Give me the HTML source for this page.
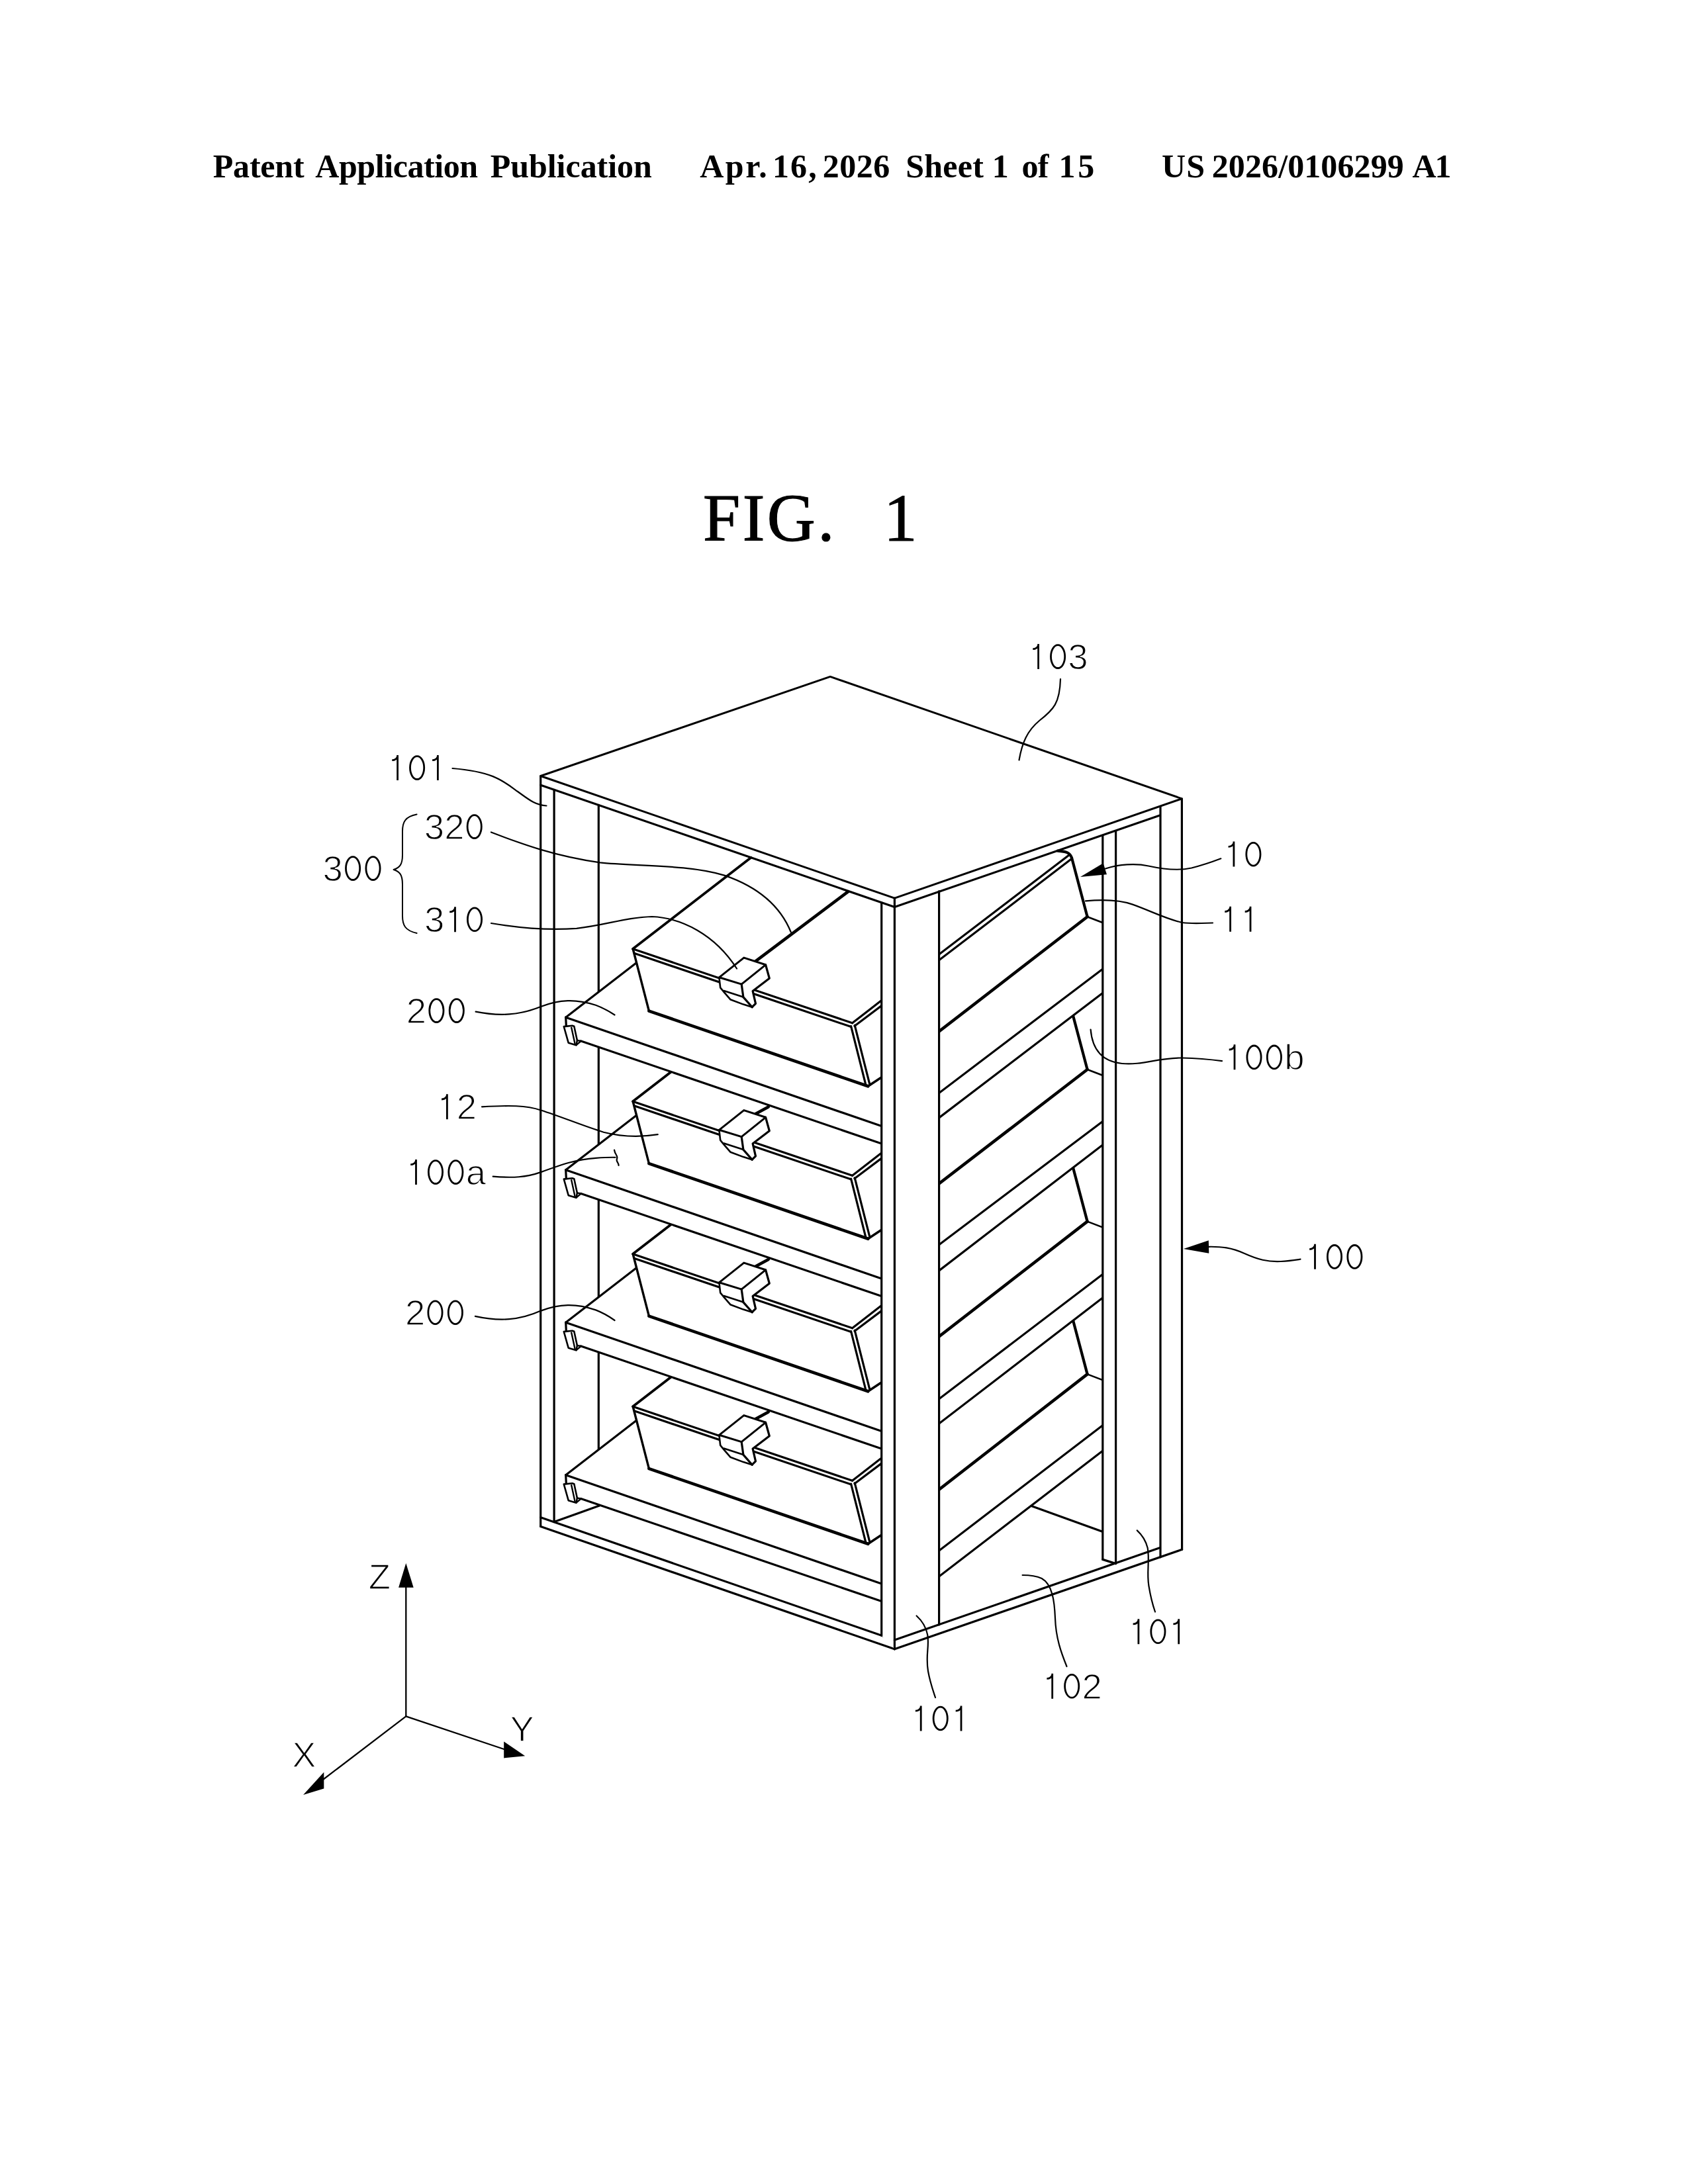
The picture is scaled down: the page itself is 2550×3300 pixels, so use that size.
<!DOCTYPE html>
<html><head><meta charset="utf-8"><title>FIG. 1</title>
<style>
html,body{margin:0;padding:0;background:#fff;}
body{width:2550px;height:3300px;position:relative;overflow:hidden;font-family:"Liberation Serif",serif;}
.h{position:absolute;top:220.5px;font:bold 50px "Liberation Serif",serif;white-space:pre;line-height:60px;color:#000;}
.fig{position:absolute;font:101px "Liberation Serif",serif;line-height:110px;color:#000;white-space:pre;letter-spacing:3.5px;-webkit-text-stroke:1.2px #000;}
svg{position:absolute;left:0;top:0;}
svg text{font-family:"Liberation Sans",sans-serif;font-size:54.5px;fill:#000;stroke:#fff;stroke-width:1.4px;text-anchor:middle;}
svg .g{fill:none;stroke:#000;stroke-width:2.8px;stroke-linecap:butt;}
</style></head><body>
<div class="h" style="left:321.8px;letter-spacing:-0.22px">Patent</div>
<div class="h" style="left:476.3px;letter-spacing:-0.43px">Application</div>
<div class="h" style="left:740.7px;letter-spacing:-0.03px">Publication</div>
<div class="h" style="left:1057.2px;letter-spacing:2.53px">Apr.</div>
<div class="h" style="left:1166.9px;letter-spacing:2.20px">16,</div>
<div class="h" style="left:1242.7px;letter-spacing:0.50px">2026</div>
<div class="h" style="left:1368.2px;letter-spacing:0.27px">Sheet</div>
<div class="h" style="left:1498.7px;letter-spacing:0.00px">1</div>
<div class="h" style="left:1543.4px;letter-spacing:-0.60px">of</div>
<div class="h" style="left:1599.5px;letter-spacing:3.70px">15</div>
<div class="h" style="left:1755.0px;letter-spacing:1.20px">US</div>
<div class="h" style="left:1830.7px;letter-spacing:0.11px">2026/0106299</div>
<div class="h" style="left:2133.4px;letter-spacing:-2.00px">A1</div>
<div class="fig" id="f1" style="left:1062px;top:728px">FIG.</div>
<div class="fig" id="f2" style="left:1335px;top:728px">1</div>
<svg width="2550" height="3300" viewBox="0 0 2550 3300">
<defs><clipPath id="rc"><rect x="1418.6" y="1200" width="247.2" height="1300"/></clipPath></defs>
<g fill="none" stroke="#000" stroke-linecap="round" stroke-linejoin="round">
<line x1="816.7" y1="1172.5" x2="816.7" y2="2306.5" stroke-width="3.2"/>
<line x1="837.1" y1="1193.3" x2="837.1" y2="2299.5" stroke-width="3.2"/>
<line x1="904.3" y1="1216.4" x2="904.3" y2="2275.3" stroke-width="3.2"/>
<line x1="816.7" y1="2292.8" x2="1351.4" y2="2478.1" stroke-width="3.2"/>
<line x1="816.7" y1="2306.5" x2="1351.4" y2="2491.8" stroke-width="3.2"/>
<line x1="837.1" y1="2299.5" x2="905.5" y2="2275.1" stroke-width="3.2"/>
<polygon points="854.7,2228.7 964,2144.2 980.4,2219.1 1311.3,2332.8 1331.7,2319 1331.7,2419.5 877.7,2264.5 870.5,2270.7 858.7,2267.2 851.8,2242.6" fill="#fff" stroke="none"/>
<line x1="854.7" y1="2228.7" x2="964" y2="2144.2" stroke-width="3.2"/>
<line x1="854.7" y1="2228.7" x2="1331.7" y2="2393" stroke-width="3.2"/>
<line x1="877.7" y1="2264.5" x2="1331.7" y2="2419.5" stroke-width="3.2"/>
<line x1="854.7" y1="2228.7" x2="855.4" y2="2243.1" stroke-width="3.2"/>
<polygon points="851.8,2242.6 864.5,2241.2 867.3,2242.3 871.9,2263.5 870.5,2270.7 858.7,2267.2" fill="#fff" stroke-width="2.6"/>
<line x1="863.2" y1="2244.1" x2="868.6" y2="2268.7" stroke-width="2.4"/>
<polyline points="871.9,2263.5 877.7,2264.5 870.5,2270.7" stroke-width="2.4"/>
<polygon points="956,2125.3 1013.9,2080.5 1160.8,2133.4 1331.7,2203.1 1331.7,2319.5 1311.3,2332.8 980.4,2219.1" fill="#fff" stroke="none"/>
<line x1="956" y1="2125.3" x2="1013.9" y2="2080.5" stroke-width="3.8"/>
<line x1="1141.5" y1="2143.9" x2="1160.8" y2="2133.4" stroke-width="4.6"/>
<line x1="956" y1="2125.3" x2="1287.6" y2="2237.3" stroke-width="3.2"/>
<line x1="958.6" y1="2132.1" x2="1285.2" y2="2242.8" stroke-width="3.2"/>
<line x1="956.6" y1="2127" x2="980.4" y2="2219.1" stroke-width="3.4"/>
<line x1="980.4" y1="2219.1" x2="1311.3" y2="2332.8" stroke-width="4.6"/>
<line x1="1285.6" y1="2242.1" x2="1308.2" y2="2331.9" stroke-width="3.2"/>
<line x1="1291.2" y1="2240.7" x2="1314" y2="2330.7" stroke-width="3.2"/>
<line x1="1287.6" y1="2237.3" x2="1331.7" y2="2203.1" stroke-width="3.2"/>
<line x1="1291" y1="2241.7" x2="1331.7" y2="2211.1" stroke-width="3.2"/>
<line x1="1311.3" y1="2332.8" x2="1331.7" y2="2319.3" stroke-width="3.6"/>
<polygon points="1086.4,2168.3 1123.8,2138.6 1156.6,2149.3 1162.3,2169.7 1137.1,2188.9 1141.5,2207.9 1136.2,2213.2 1122.9,2209.1 1103.3,2201.7 1094.4,2191.3 1088.2,2183.9" fill="#fff" stroke="none"/>
<polygon points="1086.4,2168.3 1123.8,2138.6 1156.6,2149.3 1120.2,2178.6" fill="none" stroke-width="3"/>
<polyline points="1156.6,2149.3 1162.3,2169.7 1137.1,2188.9 1141.5,2207.9 1136.2,2213.2" stroke-width="3.2"/>
<polyline points="1120.2,2178.6 1122.9,2198.1 1136.2,2213.2" stroke-width="3.2"/>
<polyline points="1086.4,2168.3 1088.2,2183.9 1094.4,2191.3 1103.3,2201.7 1122.9,2209.1 1136.2,2213.2" stroke-width="2.6"/>
<line x1="1093.5" y1="2188.5" x2="1122.9" y2="2198.1" stroke-width="2.6"/>
<polygon points="854.7,1998.2 964,1913.7 980.4,1988.6 1311.3,2102.3 1331.7,2088.5 1331.7,2189 877.7,2034 870.5,2040.2 858.7,2036.7 851.8,2012.1" fill="#fff" stroke="none"/>
<line x1="854.7" y1="1998.2" x2="964" y2="1913.7" stroke-width="3.2"/>
<line x1="854.7" y1="1998.2" x2="1331.7" y2="2162.5" stroke-width="3.2"/>
<line x1="877.7" y1="2034" x2="1331.7" y2="2189" stroke-width="3.2"/>
<line x1="854.7" y1="1998.2" x2="855.4" y2="2012.6" stroke-width="3.2"/>
<polygon points="851.8,2012.1 864.5,2010.7 867.3,2011.8 871.9,2033 870.5,2040.2 858.7,2036.7" fill="#fff" stroke-width="2.6"/>
<line x1="863.2" y1="2013.6" x2="868.6" y2="2038.2" stroke-width="2.4"/>
<polyline points="871.9,2033 877.7,2034 870.5,2040.2" stroke-width="2.4"/>
<polygon points="956,1894.8 1013.9,1850 1160.8,1902.9 1331.7,1972.6 1331.7,2089 1311.3,2102.3 980.4,1988.6" fill="#fff" stroke="none"/>
<line x1="956" y1="1894.8" x2="1013.9" y2="1850" stroke-width="3.8"/>
<line x1="1141.5" y1="1913.4" x2="1160.8" y2="1902.9" stroke-width="4.6"/>
<line x1="956" y1="1894.8" x2="1287.6" y2="2006.8" stroke-width="3.2"/>
<line x1="958.6" y1="1901.6" x2="1285.2" y2="2012.3" stroke-width="3.2"/>
<line x1="956.6" y1="1896.5" x2="980.4" y2="1988.6" stroke-width="3.4"/>
<line x1="980.4" y1="1988.6" x2="1311.3" y2="2102.3" stroke-width="4.6"/>
<line x1="1285.6" y1="2011.6" x2="1308.2" y2="2101.4" stroke-width="3.2"/>
<line x1="1291.2" y1="2010.2" x2="1314" y2="2100.2" stroke-width="3.2"/>
<line x1="1287.6" y1="2006.8" x2="1331.7" y2="1972.6" stroke-width="3.2"/>
<line x1="1291" y1="2011.2" x2="1331.7" y2="1980.6" stroke-width="3.2"/>
<line x1="1311.3" y1="2102.3" x2="1331.7" y2="2088.8" stroke-width="3.6"/>
<polygon points="1086.4,1937.8 1123.8,1908.1 1156.6,1918.8 1162.3,1939.2 1137.1,1958.4 1141.5,1977.4 1136.2,1982.7 1122.9,1978.6 1103.3,1971.2 1094.4,1960.8 1088.2,1953.4" fill="#fff" stroke="none"/>
<polygon points="1086.4,1937.8 1123.8,1908.1 1156.6,1918.8 1120.2,1948.1" fill="none" stroke-width="3"/>
<polyline points="1156.6,1918.8 1162.3,1939.2 1137.1,1958.4 1141.5,1977.4 1136.2,1982.7" stroke-width="3.2"/>
<polyline points="1120.2,1948.1 1122.9,1967.6 1136.2,1982.7" stroke-width="3.2"/>
<polyline points="1086.4,1937.8 1088.2,1953.4 1094.4,1960.8 1103.3,1971.2 1122.9,1978.6 1136.2,1982.7" stroke-width="2.6"/>
<line x1="1093.5" y1="1958" x2="1122.9" y2="1967.6" stroke-width="2.6"/>
<polygon points="854.7,1767.7 964,1683.2 980.4,1758.1 1311.3,1871.8 1331.7,1858 1331.7,1958.5 877.7,1803.5 870.5,1809.7 858.7,1806.2 851.8,1781.6" fill="#fff" stroke="none"/>
<line x1="854.7" y1="1767.7" x2="964" y2="1683.2" stroke-width="3.2"/>
<line x1="854.7" y1="1767.7" x2="1331.7" y2="1932" stroke-width="3.2"/>
<line x1="877.7" y1="1803.5" x2="1331.7" y2="1958.5" stroke-width="3.2"/>
<line x1="854.7" y1="1767.7" x2="855.4" y2="1782.1" stroke-width="3.2"/>
<polygon points="851.8,1781.6 864.5,1780.2 867.3,1781.3 871.9,1802.5 870.5,1809.7 858.7,1806.2" fill="#fff" stroke-width="2.6"/>
<line x1="863.2" y1="1783.1" x2="868.6" y2="1807.7" stroke-width="2.4"/>
<polyline points="871.9,1802.5 877.7,1803.5 870.5,1809.7" stroke-width="2.4"/>
<polygon points="956,1664.3 1013.9,1619.5 1160.8,1672.4 1331.7,1742.1 1331.7,1858.5 1311.3,1871.8 980.4,1758.1" fill="#fff" stroke="none"/>
<line x1="956" y1="1664.3" x2="1013.9" y2="1619.5" stroke-width="3.8"/>
<line x1="1141.5" y1="1682.9" x2="1160.8" y2="1672.4" stroke-width="4.6"/>
<line x1="956" y1="1664.3" x2="1287.6" y2="1776.3" stroke-width="3.2"/>
<line x1="958.6" y1="1671.1" x2="1285.2" y2="1781.8" stroke-width="3.2"/>
<line x1="956.6" y1="1666" x2="980.4" y2="1758.1" stroke-width="3.4"/>
<line x1="980.4" y1="1758.1" x2="1311.3" y2="1871.8" stroke-width="4.6"/>
<line x1="1285.6" y1="1781.1" x2="1308.2" y2="1870.9" stroke-width="3.2"/>
<line x1="1291.2" y1="1779.7" x2="1314" y2="1869.7" stroke-width="3.2"/>
<line x1="1287.6" y1="1776.3" x2="1331.7" y2="1742.1" stroke-width="3.2"/>
<line x1="1291" y1="1780.7" x2="1331.7" y2="1750.1" stroke-width="3.2"/>
<line x1="1311.3" y1="1871.8" x2="1331.7" y2="1858.3" stroke-width="3.6"/>
<polygon points="1086.4,1707.3 1123.8,1677.6 1156.6,1688.3 1162.3,1708.7 1137.1,1727.9 1141.5,1746.9 1136.2,1752.2 1122.9,1748.1 1103.3,1740.7 1094.4,1730.3 1088.2,1722.9" fill="#fff" stroke="none"/>
<polygon points="1086.4,1707.3 1123.8,1677.6 1156.6,1688.3 1120.2,1717.6" fill="none" stroke-width="3"/>
<polyline points="1156.6,1688.3 1162.3,1708.7 1137.1,1727.9 1141.5,1746.9 1136.2,1752.2" stroke-width="3.2"/>
<polyline points="1120.2,1717.6 1122.9,1737.1 1136.2,1752.2" stroke-width="3.2"/>
<polyline points="1086.4,1707.3 1088.2,1722.9 1094.4,1730.3 1103.3,1740.7 1122.9,1748.1 1136.2,1752.2" stroke-width="2.6"/>
<line x1="1093.5" y1="1727.5" x2="1122.9" y2="1737.1" stroke-width="2.6"/>
<polygon points="854.7,1537.2 964,1452.7 980.4,1527.6 1311.3,1641.3 1331.7,1627.5 1331.7,1728 877.7,1573 870.5,1579.2 858.7,1575.7 851.8,1551.1" fill="#fff" stroke="none"/>
<line x1="854.7" y1="1537.2" x2="964" y2="1452.7" stroke-width="3.2"/>
<line x1="854.7" y1="1537.2" x2="1331.7" y2="1701.5" stroke-width="3.2"/>
<line x1="877.7" y1="1573" x2="1331.7" y2="1728" stroke-width="3.2"/>
<line x1="854.7" y1="1537.2" x2="855.4" y2="1551.6" stroke-width="3.2"/>
<polygon points="851.8,1551.1 864.5,1549.7 867.3,1550.8 871.9,1572 870.5,1579.2 858.7,1575.7" fill="#fff" stroke-width="2.6"/>
<line x1="863.2" y1="1552.6" x2="868.6" y2="1577.2" stroke-width="2.4"/>
<polyline points="871.9,1572 877.7,1573 870.5,1579.2" stroke-width="2.4"/>
<polygon points="956,1433.8 1134.5,1295.8 1281,1347.3 1331.7,1511.6 1331.7,1628 1311.3,1641.3 980.4,1527.6" fill="#fff" stroke="none"/>
<line x1="956" y1="1433.8" x2="1134.5" y2="1295.8" stroke-width="3.8"/>
<line x1="1141.5" y1="1452.4" x2="1281" y2="1347.3" stroke-width="4.6"/>
<line x1="956" y1="1433.8" x2="1287.6" y2="1545.8" stroke-width="3.2"/>
<line x1="958.6" y1="1440.6" x2="1285.2" y2="1551.3" stroke-width="3.2"/>
<line x1="956.6" y1="1435.5" x2="980.4" y2="1527.6" stroke-width="3.4"/>
<line x1="980.4" y1="1527.6" x2="1311.3" y2="1641.3" stroke-width="4.6"/>
<line x1="1285.6" y1="1550.6" x2="1308.2" y2="1640.4" stroke-width="3.2"/>
<line x1="1291.2" y1="1549.2" x2="1314" y2="1639.2" stroke-width="3.2"/>
<line x1="1287.6" y1="1545.8" x2="1331.7" y2="1511.6" stroke-width="3.2"/>
<line x1="1291" y1="1550.2" x2="1331.7" y2="1519.6" stroke-width="3.2"/>
<line x1="1311.3" y1="1641.3" x2="1331.7" y2="1627.8" stroke-width="3.6"/>
<polygon points="1086.4,1476.8 1123.8,1447.1 1156.6,1457.8 1162.3,1478.2 1137.1,1497.4 1141.5,1516.4 1136.2,1521.7 1122.9,1517.6 1103.3,1510.2 1094.4,1499.8 1088.2,1492.4" fill="#fff" stroke="none"/>
<polygon points="1086.4,1476.8 1123.8,1447.1 1156.6,1457.8 1120.2,1487.1" fill="none" stroke-width="3"/>
<polyline points="1156.6,1457.8 1162.3,1478.2 1137.1,1497.4 1141.5,1516.4 1136.2,1521.7" stroke-width="3.2"/>
<polyline points="1120.2,1487.1 1122.9,1506.6 1136.2,1521.7" stroke-width="3.2"/>
<polyline points="1086.4,1476.8 1088.2,1492.4 1094.4,1499.8 1103.3,1510.2 1122.9,1517.6 1136.2,1521.7" stroke-width="2.6"/>
<line x1="1093.5" y1="1497" x2="1122.9" y2="1506.6" stroke-width="2.6"/>
<g clip-path="url(#rc)">
<line x1="1556" y1="2274.8" x2="1666" y2="2314.4" stroke-width="3.2"/>
<line x1="1418.6" y1="1442" x2="1615.6" y2="1291.6" stroke-width="3.2"/>
<line x1="1418.6" y1="1450.8" x2="1617.6" y2="1298.6" stroke-width="3.2"/>
<path d="M1597.8 1285.6 C1610 1286.5 1616 1288 1619 1296 L1642.6 1385.2" stroke-width="4.2"/>
<line x1="1418.6" y1="1558.5" x2="1642.6" y2="1385.2" stroke-width="4.6"/>
<line x1="1642.6" y1="1385.2" x2="1666" y2="1394.2" stroke-width="2.6"/>
<line x1="1618.9" y1="1526.6" x2="1642.6" y2="1616" stroke-width="4.2"/>
<line x1="1418.6" y1="1788.4" x2="1642.6" y2="1616" stroke-width="4.6"/>
<line x1="1642.6" y1="1616" x2="1666" y2="1625" stroke-width="2.6"/>
<line x1="1618.9" y1="1756.2" x2="1642.6" y2="1845.6" stroke-width="4.2"/>
<line x1="1418.6" y1="2019.4" x2="1642.6" y2="1845.6" stroke-width="4.6"/>
<line x1="1642.6" y1="1845.6" x2="1666" y2="1854.6" stroke-width="2.6"/>
<line x1="1618.9" y1="1987" x2="1642.6" y2="2076.4" stroke-width="4.2"/>
<line x1="1418.6" y1="2250.6" x2="1642.6" y2="2076.4" stroke-width="4.6"/>
<line x1="1642.6" y1="2076.4" x2="1666" y2="2085.4" stroke-width="2.6"/>
<polygon points="1418.6,1651.5 1666,1463.9 1666,1500.2 1418.6,1688.9" fill="#fff" stroke="none"/>
<line x1="1418.6" y1="1651.5" x2="1666" y2="1463.9" stroke-width="3.2"/>
<line x1="1418.6" y1="1688.9" x2="1666" y2="1500.2" stroke-width="3.2"/>
<polygon points="1418.6,1880.8 1666,1694.2 1666,1729.7 1418.6,1919.9" fill="#fff" stroke="none"/>
<line x1="1418.6" y1="1880.8" x2="1666" y2="1694.2" stroke-width="3.2"/>
<line x1="1418.6" y1="1919.9" x2="1666" y2="1729.7" stroke-width="3.2"/>
<polygon points="1418.6,2113.7 1666,1925.2 1666,1960.8 1418.6,2151.1" fill="#fff" stroke="none"/>
<line x1="1418.6" y1="2113.7" x2="1666" y2="1925.2" stroke-width="3.2"/>
<line x1="1418.6" y1="2151.1" x2="1666" y2="1960.8" stroke-width="3.2"/>
<polygon points="1418.6,2343 1666,2153.6 1666,2191.9 1418.6,2382.1" fill="#fff" stroke="none"/>
<line x1="1418.6" y1="2343" x2="1666" y2="2153.6" stroke-width="3.2"/>
<line x1="1418.6" y1="2382.1" x2="1666" y2="2191.9" stroke-width="3.2"/>
</g>
<polygon points="1331.7,1363.8 1351.4,1370.5 1418.6,1347 1418.6,2455 1351.4,2491.8 1331.7,2471.2" fill="#fff" stroke="none"/>
<polygon points="1665.8,1262.6 1685.6,1256.4 1685.6,2362.6 1665.8,2356.4" fill="#fff" stroke="none"/>
<polygon points="816.7,1172.5 1254.2,1022.4 1785.4,1206.8 1351.4,1357.2" fill="#fff" stroke-width="3"/>
<line x1="816.7" y1="1186.2" x2="1351.4" y2="1370.5" stroke-width="3.2"/>
<line x1="1351.4" y1="1370.5" x2="1751.4" y2="1232.2" stroke-width="3.2"/>
<line x1="1351.4" y1="1357.2" x2="1351.4" y2="2491.8" stroke-width="3.2"/>
<line x1="1331.7" y1="1363.8" x2="1331.7" y2="2471.2" stroke-width="3.2"/>
<line x1="1418.6" y1="1346.5" x2="1418.6" y2="2455" stroke-width="3.2"/>
<line x1="1665.8" y1="1262.8" x2="1665.8" y2="2356.4" stroke-width="3.2"/>
<line x1="1685.6" y1="1256" x2="1685.6" y2="2362.6" stroke-width="3.2"/>
<line x1="1665.8" y1="2356.4" x2="1685.6" y2="2362.6" stroke-width="3.2"/>
<line x1="1753" y1="1219" x2="1753" y2="2352.8" stroke-width="3.2"/>
<line x1="1785.4" y1="1206.8" x2="1785.6" y2="2341.3" stroke-width="3.2"/>
<line x1="1351.4" y1="2478.1" x2="1751.8" y2="2338.8" stroke-width="3.2"/>
<line x1="1351.4" y1="2491.8" x2="1785.6" y2="2341.3" stroke-width="3.2"/>
<g stroke-width="2.2">
<path d="M1602 1026 C1601 1062 1592 1072 1570 1089 C1552 1104 1544 1122 1539.5 1148.5"/>
<path d="M683.5 1161 C745 1166 760 1180 782 1196 C800 1209 808 1216 825.5 1217.5"/>
<path d="M742 1257.5 C790 1276 840 1294 906.6 1303.3 C960 1309 1040 1306 1095 1322.9 C1150 1342 1180 1372 1194.8 1408.5"/>
<path d="M742 1395 C790 1403 830 1406 871 1402.8 C915 1398 945 1386 984.8 1385 C1030 1387 1080 1412 1113 1463.5"/>
<path d="M718.6 1528.7 C755 1536 785 1534 817 1521 C845 1510 870 1509 899.9 1518.7 C912 1523 920 1528 928.5 1533.5"/>
<path d="M728 1672.3 C770 1670 795 1670 817 1677.5 C850 1688 880 1701 911.8 1710.7 C940 1718 970 1718 993.7 1714.2"/>
<path d="M744.7 1777.7 C775 1780 795 1779 817 1771.1 C850 1759 870 1752 899.9 1749.8 C912 1749 920 1748.6 929.5 1748.8"/>
<path d="M928 1737.5 C929 1745 934 1746 932 1751 C930 1755 935 1757 934.5 1761"/>
<path d="M717.9 1988.9 C755 1997 785 1995 817 1980.6 C845 1970 870 1969 899.9 1979.4 C912 1984 920 1989 928.5 1995"/>
<path d="M1670 1312.5 C1690 1306 1715 1304 1735 1308.5 C1760 1314 1780 1316 1800 1311.5 C1818 1307 1832 1302 1844.3 1297.3"/>
<path d="M1640 1361.3 C1665 1359 1690 1359 1711 1366.6 C1740 1377 1760 1388 1785.7 1394 C1800 1396 1815 1395 1832 1394.5"/>
<path d="M1647.6 1555.5 C1650 1585 1665 1604 1695 1607 C1725 1610 1750 1598 1785.5 1598.5 C1810 1599 1830 1601 1846 1603.2"/>
<path d="M1826 1883.8 C1845 1883.5 1860 1885 1880 1894 C1900 1903 1915 1907 1935 1906 C1948 1905.3 1957 1903.8 1964.5 1902.7"/>
<path d="M1384.6 2441.5 C1394 2450 1399 2458 1401.3 2470.6 C1404 2490 1398 2500 1402 2525 C1405 2542 1409 2553 1413 2565"/>
<path d="M1544.6 2380 C1556 2380 1565 2381 1573.7 2385 C1590 2394 1593 2420 1594 2445 C1595 2475 1603 2497 1611.5 2518"/>
<path d="M1717.7 2312.4 C1726 2320 1731 2328 1733.7 2339.1 C1737 2358 1732 2375 1735.4 2396 C1738 2412 1741 2424 1745 2435.5"/>
</g>
<g fill="#000" stroke="none">
<polygon points="1632,1325 1666.6,1304.2 1672,1321.3"/>
<polygon points="1787.9,1887.1 1825.8,1874.3 1826.3,1893.7"/>
<polygon points="613.3,2362 602.1,2398.8 624.7,2398.8"/>
<polygon points="793.2,2653.2 761.2,2631.4 761.2,2656.4"/>
<polygon points="458.1,2711.9 489.3,2677.8 489.3,2702.6"/>
</g>
<g stroke-width="2">
<line x1="613.3" y1="2593.3" x2="613.3" y2="2396" stroke-width="2.3"/>
<line x1="613.3" y1="2593.3" x2="765" y2="2644.2" stroke-width="2.3"/>
<line x1="613.3" y1="2593.3" x2="486" y2="2690.5" stroke-width="2.3"/>
</g>
<path d="M629.6 1230.5 C612 1234 608 1242 608 1256 L608 1292 C608 1306 604 1311 594.6 1314 C604 1317 608 1322 608 1336 L608 1384 C608 1398 612 1406 629.6 1410" stroke-width="2"/>
</g>
<g>
<path class="g" d="M1568.6 973 L1568.6 1011M1560.3 980.7 C1564.7 980.7 1567.4 978.5 1568.6 975"/>
<ellipse class="g" cx="1598.1" cy="992.1" rx="10.6" ry="17.4"/>
<text x="1628.5" y="1011">3</text>
<path class="g" d="M600.6 1141 L600.6 1179M592.3 1148.7 C596.7 1148.7 599.4 1146.5 600.6 1143"/>
<ellipse class="g" cx="630.1" cy="1160.1" rx="10.6" ry="17.4"/>
<path class="g" d="M661.4 1141 L661.4 1179M653.1 1148.7 C657.5 1148.7 660.2 1146.5 661.4 1143"/>
<text x="655.9" y="1268">3</text>
<text x="686.3" y="1268">2</text>
<ellipse class="g" cx="716.7" cy="1249.1" rx="10.6" ry="17.4"/>
<text x="502.7" y="1331">3</text>
<ellipse class="g" cx="533.1" cy="1312.1" rx="10.6" ry="17.4"/>
<ellipse class="g" cx="563.5" cy="1312.1" rx="10.6" ry="17.4"/>
<text x="656.2" y="1408.2">3</text>
<path class="g" d="M687.5 1370.2 L687.5 1408.2M679.2 1377.9 C683.6 1377.9 686.3 1375.7 687.5 1372.2"/>
<ellipse class="g" cx="717" cy="1389.3" rx="10.6" ry="17.4"/>
<text x="629" y="1546">2</text>
<ellipse class="g" cx="659.4" cy="1527.1" rx="10.6" ry="17.4"/>
<ellipse class="g" cx="689.8" cy="1527.1" rx="10.6" ry="17.4"/>
<path class="g" d="M675.4 1653.3 L675.4 1691.3M667.1 1661 C671.5 1661 674.2 1658.8 675.4 1655.3"/>
<text x="704.9" y="1691.3">2</text>
<path class="g" d="M628.5 1752 L628.5 1790M620.2 1759.7 C624.6 1759.7 627.3 1757.5 628.5 1754"/>
<ellipse class="g" cx="658" cy="1771.1" rx="10.6" ry="17.4"/>
<ellipse class="g" cx="688.4" cy="1771.1" rx="10.6" ry="17.4"/>
<text x="718.8" y="1790">a</text>
<text x="627.1" y="2002.1">2</text>
<ellipse class="g" cx="657.5" cy="1983.2" rx="10.6" ry="17.4"/>
<ellipse class="g" cx="687.9" cy="1983.2" rx="10.6" ry="17.4"/>
<path class="g" d="M1863.9 1271.6 L1863.9 1309.6M1855.6 1279.3 C1860 1279.3 1862.7 1277.1 1863.9 1273.6"/>
<ellipse class="g" cx="1893.4" cy="1290.7" rx="10.6" ry="17.4"/>
<path class="g" d="M1858.6 1369.8 L1858.6 1407.8M1850.3 1377.5 C1854.7 1377.5 1857.4 1375.3 1858.6 1371.8"/>
<path class="g" d="M1889 1369.8 L1889 1407.8M1880.7 1377.5 C1885.1 1377.5 1887.8 1375.3 1889 1371.8"/>
<path class="g" d="M1865 1578.3 L1865 1616.3M1856.7 1586 C1861.1 1586 1863.8 1583.8 1865 1580.3"/>
<ellipse class="g" cx="1894.5" cy="1597.4" rx="10.6" ry="17.4"/>
<ellipse class="g" cx="1924.9" cy="1597.4" rx="10.6" ry="17.4"/>
<text x="1955.3" y="1616.3">b</text>
<path class="g" d="M1986.5 1879.8 L1986.5 1917.8M1978.2 1887.5 C1982.6 1887.5 1985.3 1885.3 1986.5 1881.8"/>
<ellipse class="g" cx="2016" cy="1898.9" rx="10.6" ry="17.4"/>
<ellipse class="g" cx="2046.4" cy="1898.9" rx="10.6" ry="17.4"/>
<path class="g" d="M1391.2 2577.4 L1391.2 2615.4M1382.9 2585.1 C1387.3 2585.1 1390 2582.9 1391.2 2579.4"/>
<ellipse class="g" cx="1420.7" cy="2596.5" rx="10.6" ry="17.4"/>
<path class="g" d="M1452 2577.4 L1452 2615.4M1443.7 2585.1 C1448.1 2585.1 1450.8 2582.9 1452 2579.4"/>
<path class="g" d="M1589.7 2528.7 L1589.7 2566.7M1581.4 2536.4 C1585.8 2536.4 1588.5 2534.2 1589.7 2530.7"/>
<ellipse class="g" cx="1619.2" cy="2547.8" rx="10.6" ry="17.4"/>
<text x="1649.6" y="2566.7">2</text>
<path class="g" d="M1719.9 2446.2 L1719.9 2484.2M1711.6 2453.9 C1716 2453.9 1718.7 2451.7 1719.9 2448.2"/>
<ellipse class="g" cx="1749.4" cy="2465.3" rx="10.6" ry="17.4"/>
<path class="g" d="M1780.7 2446.2 L1780.7 2484.2M1772.4 2453.9 C1776.8 2453.9 1779.5 2451.7 1780.7 2448.2"/>
<text x="573.4" y="2401">Z</text>
<text x="788.6" y="2631.4">Y</text>
<text x="459.5" y="2669.8">X</text>
</g>
</svg>
</body></html>
